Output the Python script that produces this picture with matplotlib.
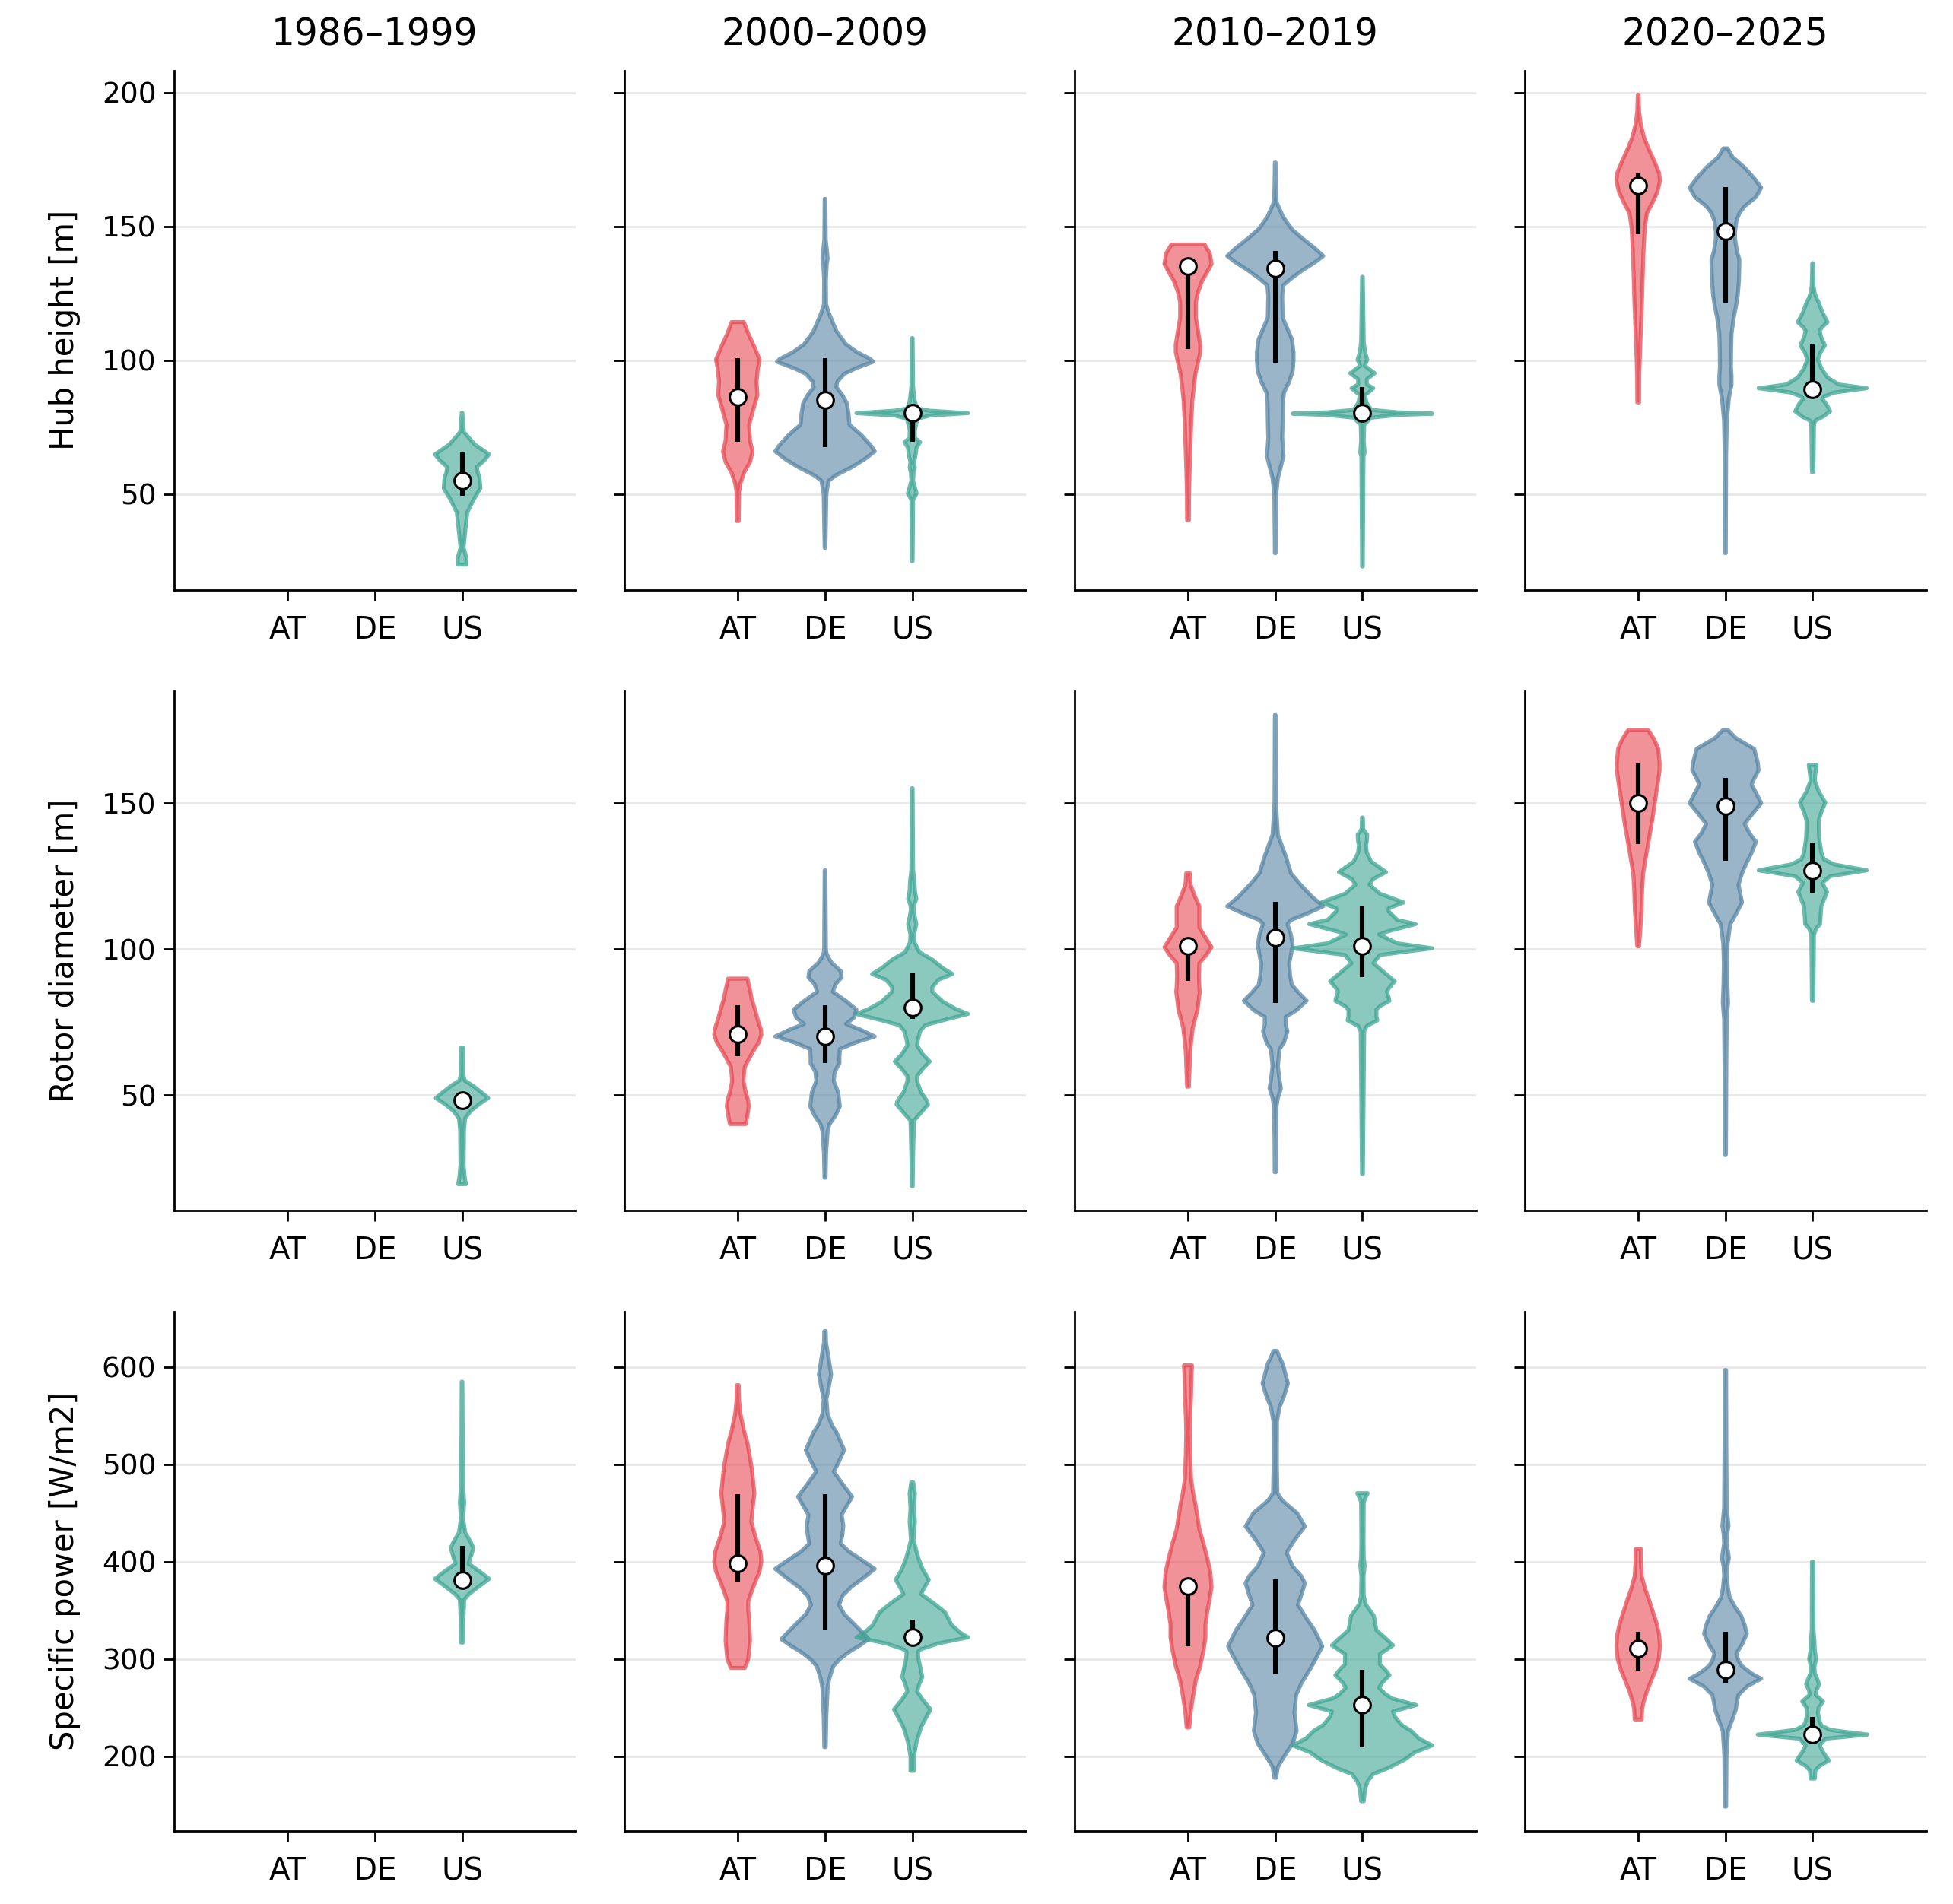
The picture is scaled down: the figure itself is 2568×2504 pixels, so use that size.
import matplotlib
matplotlib.use("Agg")
import matplotlib.pyplot as plt
from matplotlib.patches import Polygon
from matplotlib.colors import to_rgba

periods = ["1986–1999", "2000–2009", "2010–2019", "2020–2025"]
countries = ["AT", "DE", "US"]
colors = {"AT": "#e64953", "DE": "#5784a3", "US": "#3ea593"}

# violin outlines: (value, half width in category units), top to bottom
hub_1986 = {
    "US": [(80.4, 0.004), (73.3, 0.02), (68.6, 0.145), (64.9, 0.31), (62.5, 0.25), (60.2, 0.17), (58, 0.18),
           (56.4, 0.2), (52.2, 0.21), (47.9, 0.13), (43.2, 0.06), (35.7, 0.035), (30, 0.017), (26.3, 0.05), (23.7, 0.05)],
}
hub_2000 = {
    "AT": [(114.3, 0.07), (110, 0.12), (105, 0.19), (100.3, 0.25), (97, 0.23), (92, 0.215), (87, 0.225), (82, 0.18),
           (76, 0.13), (70, 0.14), (66, 0.17), (62, 0.14), (58, 0.07), (54, 0.03), (51, 0.015), (40, 0.01)],
    "DE": [(160.3, 0.004), (145, 0.008), (140, 0.025), (138, 0.03), (136, 0.02), (130, 0.01), (121, 0.012), (118, 0.04),
           (111, 0.13), (106, 0.24), (103, 0.37), (100.5, 0.52), (99.5, 0.55), (97, 0.35), (95, 0.22), (92, 0.14),
           (90, 0.13), (87, 0.2), (84, 0.25), (80, 0.27), (76, 0.28), (72, 0.42), (68, 0.53), (66, 0.57), (63, 0.45),
           (60, 0.3), (57, 0.12), (55, 0.04), (50, 0.015), (40, 0.01), (30, 0.004)],
    "US": [(108.3, 0.004), (90, 0.01), (84.5, 0.03), (82, 0.06), (81.2, 0.2), (80.3, 0.64), (79.4, 0.2), (78.2, 0.06),
           (74, 0.03), (71, 0.03), (69.5, 0.09), (67.5, 0.05), (64, 0.035), (62, 0.02), (60, 0.03), (58, 0.015),
           (55, 0.01), (50.3, 0.05), (48, 0.01), (25, 0.004)],
}
hub_2010 = {
    "AT": [(143.3, 0.19), (140, 0.25), (136, 0.27), (133, 0.22), (129.6, 0.16), (125, 0.11), (121.6, 0.09), (116, 0.09),
           (110, 0.12), (106, 0.14), (103, 0.14), (100, 0.12), (95, 0.085), (91, 0.07), (85, 0.05), (77.6, 0.038),
           (68, 0.028), (58, 0.018), (50, 0.012), (40.3, 0.01)],
    "DE": [(173.9, 0.004), (165, 0.008), (159, 0.016), (153.6, 0.09), (149, 0.19), (145.6, 0.31), (142, 0.45),
           (139, 0.55), (136.5, 0.45), (133.6, 0.31), (130.5, 0.18), (128, 0.09), (124, 0.08), (116, 0.085),
           (111, 0.15), (108, 0.19), (103, 0.21), (100, 0.21), (96, 0.2), (92, 0.16), (88, 0.1), (84.3, 0.088),
           (78, 0.085), (71, 0.08), (66, 0.09), (64.3, 0.095), (61, 0.07), (56, 0.03), (49.6, 0.01), (28, 0.004)],
    "US": [(131.2, 0.004), (107, 0.015), (103, 0.03), (100.3, 0.056), (98, 0.025), (95.2, 0.14), (93, 0.05),
           (91, 0.05), (89.6, 0.125), (87, 0.03), (84.3, 0.045), (81.5, 0.1), (80.6, 0.4), (80.1, 0.8), (79.6, 0.4),
           (78.6, 0.1), (76, 0.02), (70, 0.015), (65.6, 0.025), (64, 0.012), (23, 0.004)],
}
hub_2020 = {
    "AT": [(199.2, 0.004), (193, 0.01), (188, 0.03), (183, 0.07), (179, 0.12), (174, 0.19), (170, 0.24), (167, 0.25),
           (163, 0.22), (159, 0.165), (155, 0.1), (149.6, 0.075), (140, 0.06), (130, 0.05), (124, 0.045),
           (115, 0.035), (107, 0.025), (95, 0.012), (84.3, 0.01)],
    "DE": [(179.2, 0.025), (176, 0.08), (172, 0.22), (168, 0.33), (164.5, 0.41), (161, 0.35), (157.6, 0.22),
           (155, 0.16), (152, 0.125), (148, 0.11), (145.6, 0.11), (141, 0.13), (137.6, 0.16), (130, 0.155),
           (124, 0.14), (120, 0.12), (116, 0.095), (110, 0.07), (104, 0.065), (97.6, 0.063), (94, 0.07), (91, 0.07),
           (86, 0.04), (77.6, 0.016), (65, 0.008), (28, 0.004)],
    "US": [(136.3, 0.004), (128, 0.01), (125.6, 0.02), (123.5, 0.04), (121.6, 0.07), (118, 0.11), (114.3, 0.17),
           (112.5, 0.11), (111, 0.08), (108.5, 0.1), (105.6, 0.14), (103, 0.09), (100.3, 0.06), (97, 0.1),
           (93.6, 0.17), (91, 0.3), (89.6, 0.62), (88, 0.25), (86.5, 0.13), (85.6, 0.11), (83.5, 0.16), (81, 0.2),
           (79, 0.12), (77.5, 0.03), (76.3, 0.016), (58.3, 0.008)],
}

rotor_1986 = {
    "US": [(66.3, 0.01), (57, 0.015), (55, 0.03), (53.3, 0.12), (51, 0.22), (49, 0.3), (47, 0.2), (44.6, 0.1),
           (42, 0.035), (38, 0.022), (26, 0.018), (22, 0.03), (19.5, 0.045)],
}
rotor_2000 = {
    "AT": [(89.9, 0.11), (86, 0.14), (82.9, 0.16), (79, 0.2), (75.6, 0.23), (72.5, 0.265), (70.7, 0.27), (68, 0.24),
           (65.8, 0.19), (62, 0.12), (59.7, 0.08), (57, 0.07), (54.8, 0.065), (51, 0.09), (48, 0.12), (46.2, 0.125),
           (43, 0.11), (40.1, 0.09)],
    "DE": [(127, 0.004), (100, 0.01), (98.8, 0.015), (97, 0.04), (95.2, 0.08), (92.5, 0.18), (90.3, 0.19),
           (88, 0.12), (85.4, 0.09), (82, 0.25), (79.3, 0.36), (76.5, 0.33), (74.4, 0.24), (72.5, 0.4), (70.1, 0.57),
           (68, 0.35), (65.8, 0.17), (63, 0.165), (60.9, 0.165), (58, 0.11), (54.8, 0.1), (51, 0.15), (46.2, 0.17),
           (43, 0.12), (40, 0.05), (37.6, 0.03), (30, 0.012), (21.7, 0.006)],
    "US": [(155.1, 0.004), (127, 0.01), (123.3, 0.025), (120, 0.03), (117.2, 0.047), (115, 0.02), (113.5, 0.015),
           (111, 0.03), (108.6, 0.047), (105, 0.02), (102.4, 0.025), (99, 0.08), (96.4, 0.23), (93.5, 0.35),
           (91.5, 0.46), (89.5, 0.3), (87, 0.23), (85.4, 0.23), (82, 0.35), (79.5, 0.5), (77.8, 0.64), (76, 0.4),
           (74, 0.15), (71.9, 0.09), (69, 0.065), (67, 0.055), (64, 0.12), (61.5, 0.2), (59, 0.12), (56.5, 0.055),
           (54.8, 0.055), (51, 0.1), (48, 0.17), (46.8, 0.18), (44, 0.1), (41.3, 0.02), (30, 0.01), (18.7, 0.005)],
}
rotor_2010 = {
    "AT": [(126, 0.02), (122, 0.03), (118, 0.08), (114.7, 0.13), (111, 0.13), (107.4, 0.13), (104, 0.2),
           (100.7, 0.27), (98, 0.21), (95.2, 0.13), (91, 0.125), (87, 0.13), (85.4, 0.135), (82, 0.12), (79.3, 0.11),
           (76, 0.08), (73.1, 0.055), (68, 0.035), (64.6, 0.025), (52.9, 0.01)],
    "DE": [(180.2, 0.004), (150, 0.008), (146.6, 0.015), (139.2, 0.03), (131.9, 0.12), (126, 0.18), (122.1, 0.29),
           (118, 0.42), (114.7, 0.55), (112, 0.35), (110, 0.18), (108.6, 0.14), (105, 0.18), (101.3, 0.2),
           (98, 0.18), (95.2, 0.16), (91, 0.17), (87.8, 0.19), (85, 0.27), (82.3, 0.36), (79, 0.24), (76.8, 0.12),
           (74, 0.12), (71.9, 0.14), (68, 0.1), (65.8, 0.05), (60, 0.03), (55, 0.05), (52.3, 0.065), (49, 0.03),
           (46.2, 0.015), (35, 0.008), (23.6, 0.006)],
    "US": [(145.1, 0.004), (141, 0.01), (139.2, 0.055), (137, 0.05), (135.6, 0.04), (133, 0.05), (130, 0.1),
           (126.4, 0.27), (124, 0.12), (122.1, 0.08), (119, 0.2), (116, 0.47), (114, 0.3), (112.9, 0.3), (110, 0.4),
           (108.6, 0.61), (106, 0.28), (105, 0.19), (102, 0.4), (100.3, 0.8), (98, 0.2), (95.2, 0.125), (92, 0.25),
           (89, 0.37), (86.5, 0.3), (85.4, 0.28), (83.5, 0.3), (82.3, 0.31), (80.5, 0.2), (79.3, 0.16), (77, 0.16),
           (75.6, 0.17), (73.7, 0.05), (71.9, 0.02), (23, 0.005)],
}
rotor_2020 = {
    "AT": [(175, 0.115), (172, 0.18), (168.6, 0.23), (164, 0.245), (161.3, 0.245), (156, 0.22), (150.2, 0.19),
           (144, 0.16), (138, 0.125), (132, 0.09), (125.8, 0.056), (120, 0.045), (113.5, 0.038), (107, 0.025),
           (101, 0.01)],
    "DE": [(175, 0.03), (172.3, 0.12), (168.6, 0.33), (164, 0.37), (161.3, 0.38), (158.5, 0.33), (156.4, 0.3),
           (153, 0.36), (150, 0.41), (146, 0.3), (142.9, 0.22), (139.5, 0.28), (136.8, 0.35), (133, 0.3),
           (129.4, 0.24), (126, 0.19), (122.1, 0.15), (119, 0.17), (116, 0.19), (112, 0.12), (108.6, 0.055),
           (102, 0.025), (95.2, 0.018), (88, 0.022), (81.7, 0.03), (76, 0.015), (60, 0.01), (29.7, 0.006)],
    "US": [(163.1, 0.045), (160, 0.03), (157.6, 0.025), (154, 0.07), (150.2, 0.145), (147, 0.1), (144.1, 0.07),
           (141, 0.07), (138, 0.075), (133, 0.1), (130.7, 0.13), (129, 0.25), (127, 0.62), (125, 0.2), (122.7, 0.11),
           (119.6, 0.165), (117, 0.13), (114.7, 0.1), (111, 0.09), (108.6, 0.085), (107, 0.04), (105, 0.015),
           (82.3, 0.008)],
}

power_1986 = {
    "US": [(585, 0.004), (480, 0.01), (461, 0.025), (445, 0.012), (430, 0.035), (420, 0.1), (414, 0.13),
           (405, 0.1), (398, 0.075), (390, 0.2), (382.4, 0.31), (375, 0.2), (366.7, 0.08), (361, 0.025),
           (340, 0.015), (316.8, 0.01)],
}
power_2000 = {
    "AT": [(581.5, 0.01), (565, 0.015), (551.9, 0.03), (535, 0.07), (522, 0.11), (496.3, 0.16), (470.4, 0.19),
           (455, 0.17), (440.7, 0.155), (426, 0.2), (410, 0.26), (400, 0.27), (390, 0.25), (381.5, 0.21),
           (370, 0.16), (359.3, 0.12), (350, 0.12), (340.7, 0.13), (318.5, 0.14), (300, 0.12), (290.7, 0.08)],
    "DE": [(637, 0.008), (625, 0.012), (610, 0.04), (592.6, 0.07), (578, 0.04), (566.7, 0.015), (551.9, 0.03),
           (540, 0.08), (533.3, 0.13), (514.8, 0.22), (503, 0.16), (492.6, 0.1), (480, 0.2), (466.7, 0.31),
           (456, 0.24), (448.1, 0.19), (437, 0.21), (428, 0.2), (418.5, 0.18), (410, 0.28), (403.7, 0.39),
           (392.6, 0.57), (384, 0.45), (374, 0.3), (365, 0.2), (355.6, 0.16), (346, 0.22), (337, 0.32),
           (328, 0.42), (320.4, 0.5), (314, 0.4), (307.4, 0.28), (300, 0.17), (292.6, 0.095), (280, 0.05),
           (270.4, 0.03), (240, 0.015), (209.3, 0.008)],
    "US": [(481.5, 0.012), (470, 0.03), (455, 0.02), (440.7, 0.03), (430, 0.02), (422, 0.015), (410, 0.05),
           (403.7, 0.07), (392, 0.12), (381.5, 0.19), (372, 0.13), (366.7, 0.1), (357, 0.25), (348, 0.375),
           (335, 0.45), (327, 0.55), (322.2, 0.64), (316, 0.3), (310, 0.1), (307.4, 0.065), (300, 0.07),
           (292.6, 0.09), (281.5, 0.115), (274, 0.08), (266.7, 0.055), (258, 0.12), (248.1, 0.21), (240, 0.16),
           (229.6, 0.1), (215, 0.05), (200, 0.02), (185, 0.02)],
}
power_2010 = {
    "AT": [(601.9, 0.045), (590, 0.04), (570.4, 0.035), (550, 0.025), (533.3, 0.02), (510, 0.025), (485.2, 0.035),
           (470, 0.06), (459.3, 0.085), (433.3, 0.13), (418, 0.18), (403.7, 0.22), (390, 0.255), (374, 0.27),
           (360, 0.245), (348, 0.22), (335, 0.2), (322.2, 0.2), (310, 0.18), (292.6, 0.14), (278, 0.09),
           (263, 0.06), (245, 0.03), (229.6, 0.015)],
    "DE": [(616.7, 0.02), (610, 0.05), (603.7, 0.085), (583.3, 0.145), (570, 0.1), (559.3, 0.05), (544.4, 0.02),
           (500, 0.018), (470.4, 0.025), (463, 0.08), (450, 0.25), (436.3, 0.34), (422, 0.22), (409.3, 0.13),
           (395, 0.2), (385, 0.3), (377.8, 0.34), (366, 0.3), (355.6, 0.26), (340, 0.37), (329.6, 0.45),
           (313, 0.54), (292.6, 0.42), (275, 0.3), (263, 0.24), (245, 0.22), (225.9, 0.245), (213, 0.2),
           (203.7, 0.13), (195, 0.07), (188.9, 0.03), (177.8, 0.01)],
    "US": [(470.4, 0.06), (465, 0.03), (461.1, 0.015), (420, 0.012), (403.7, 0.015), (396, 0.025), (385, 0.012),
           (365, 0.015), (355.6, 0.04), (344.4, 0.13), (329.6, 0.16), (320, 0.28), (314, 0.35), (305, 0.2),
           (294.4, 0.2), (289, 0.26), (283.3, 0.31), (276, 0.23), (270.4, 0.19), (264, 0.26), (259.3, 0.34),
           (252.6, 0.615), (246, 0.35), (240.7, 0.37), (232, 0.45), (225.9, 0.56), (218, 0.65), (211.1, 0.8),
           (204, 0.6), (196.3, 0.48), (188, 0.3), (181.5, 0.12), (174, 0.06), (166.7, 0.03), (153.7, 0.015)],
}
power_2020 = {
    "AT": [(413, 0.03), (400, 0.03), (385.2, 0.04), (372, 0.08), (359.3, 0.13), (348, 0.17), (337, 0.21),
           (325, 0.24), (313, 0.25), (300, 0.235), (288.9, 0.2), (278, 0.15), (266.7, 0.1), (255, 0.06),
           (248.1, 0.045), (237.8, 0.04)],
    "DE": [(597, 0.008), (520, 0.01), (455.6, 0.015), (446, 0.025), (437, 0.035), (428, 0.02), (418.5, 0.015),
           (410, 0.03), (403.7, 0.04), (395, 0.02), (385.2, 0.015), (372, 0.03), (363, 0.05), (352, 0.12),
           (344.4, 0.18), (335, 0.22), (325.9, 0.245), (315, 0.19), (305.6, 0.125), (298, 0.15), (292.6, 0.19),
           (285, 0.3), (279.6, 0.41), (272, 0.25), (263, 0.15), (255, 0.13), (248.1, 0.12), (238, 0.08),
           (225.9, 0.03), (200, 0.012), (148.1, 0.008)],
    "US": [(400, 0.008), (330, 0.01), (318.5, 0.02), (308, 0.025), (300, 0.04), (292, 0.02), (285.2, 0.025),
           (274.1, 0.075), (267, 0.04), (263, 0.035), (256.3, 0.12), (250, 0.07), (244.4, 0.06), (236, 0.08),
           (231.5, 0.1), (227, 0.2), (222.2, 0.63), (218, 0.15), (211.1, 0.08), (204, 0.12), (195.6, 0.185),
           (190, 0.08), (185.2, 0.03), (177, 0.025)],
}

# median and quartiles per period, order AT, DE, US
hub_median = [[None, None, 55.0], [86.3, 85.2, 80.3], [135.2, 134.3, 80.3], [165.2, 148.3, 89.2]]
hub_q1 = [[None, None, 49.3], [69.6, 67.6, 69.6], [104.3, 99.2, 80.0], [147.2, 121.6, 89.0]]
hub_q3 = [[None, None, 65.6], [100.9, 100.9, 80.5], [136.0, 141.0, 90.0], [169.9, 164.7, 105.9]]

rotor_median = [[None, None, 48.3], [71.0, 70.1, 79.9], [101.0, 104.1, 101.0], [150.2, 149.0, 127.0]]
rotor_q1 = [[None, None, 47.5], [63.3, 61.1, 76.2], [89.0, 81.5, 90.5], [136.0, 130.3, 119.4]]
rotor_q3 = [[None, None, 49.0], [80.7, 80.7, 91.7], [101.5, 116.2, 114.7], [163.5, 158.8, 136.5]]

power_median = [[None, None, 381.0], [398.1, 395.6, 322.2], [374.8, 321.5, 252.6], [310.4, 288.9, 222.6]]
power_q1 = [[None, None, 380.0], [379.6, 329.6, 313.0], [313.0, 284.4, 209.3], [288.1, 274.8, 220.0]]
power_q3 = [[None, None, 416.0], [469.6, 469.6, 340.7], [375.0, 382.2, 288.9], [327.8, 327.8, 240.7]]

rows = [
    ("Hub height [m]", [hub_1986, hub_2000, hub_2010, hub_2020], hub_median, hub_q1, hub_q3,
     [50, 100, 150, 200], (14.3, 208.3)),
    ("Rotor diameter [m]", [rotor_1986, rotor_2000, rotor_2010, rotor_2020], rotor_median, rotor_q1, rotor_q3,
     [50, 100, 150], (10.5, 188.4)),
    ("Specific power [W/m2]", [power_1986, power_2000, power_2010, power_2020], power_median, power_q1, power_q3,
     [200, 300, 400, 500, 600], (123, 657)),
]


def draw_violin(ax, pos, outline, color):
    ys = [p[0] for p in outline]
    ws = [p[1] for p in outline]
    right = [(pos + w, y) for y, w in zip(ys, ws)]
    left = [(pos - w, y) for y, w in zip(ys[::-1], ws[::-1])]
    poly = Polygon(right + left, closed=True, facecolor=to_rgba(color, 0.6),
                   edgecolor=to_rgba(color, 0.75), linewidth=1.9, joinstyle="round", zorder=2)
    ax.add_patch(poly)


fig, axes = plt.subplots(3, 4, figsize=(12.84, 12.52), dpi=200, sharey="row")
plt.subplots_adjust(left=0.0892, right=0.9862, bottom=0.0383, top=0.963, wspace=0.122, hspace=0.195)

for r, (ylabel, shapes, med, q1, q3, yticks, ylim) in enumerate(rows):
    for c in range(4):
        ax = axes[r, c]
        for i, country in enumerate(countries):
            if country not in shapes[c]:
                continue
            draw_violin(ax, i, shapes[c][country], colors[country])
            ax.plot([i, i], [q1[c][i], q3[c][i]], color="black", lw=2.2, solid_capstyle="butt", zorder=3)
            ax.plot(i, med[c][i], "o", ms=7.8, mfc="white", mec="black", mew=1.1, zorder=4)
        ax.set_xlim(-1.3, 3.3)
        ax.set_ylim(*ylim)
        ax.set_yticks(yticks)
        ax.set_xticks(range(3))
        ax.set_xticklabels(countries)
        ax.tick_params(axis="y", labelsize=13.5, width=1.0, length=5)
        ax.tick_params(axis="x", labelsize=14.5, width=1.0, length=5, pad=7)
        ax.grid(axis="y", color="#e8e8e8", lw=1.0, zorder=0)
        ax.set_axisbelow(True)
        for side in ["top", "right"]:
            ax.spines[side].set_visible(False)
        for side in ["left", "bottom"]:
            ax.spines[side].set_linewidth(1.0)
        if r == 0:
            ax.set_title(periods[c], fontsize=17.5, pad=12)
        if c == 0:
            ax.set_ylabel(ylabel, fontsize=15, labelpad=10)

fig.savefig("out.png", dpi=200)
